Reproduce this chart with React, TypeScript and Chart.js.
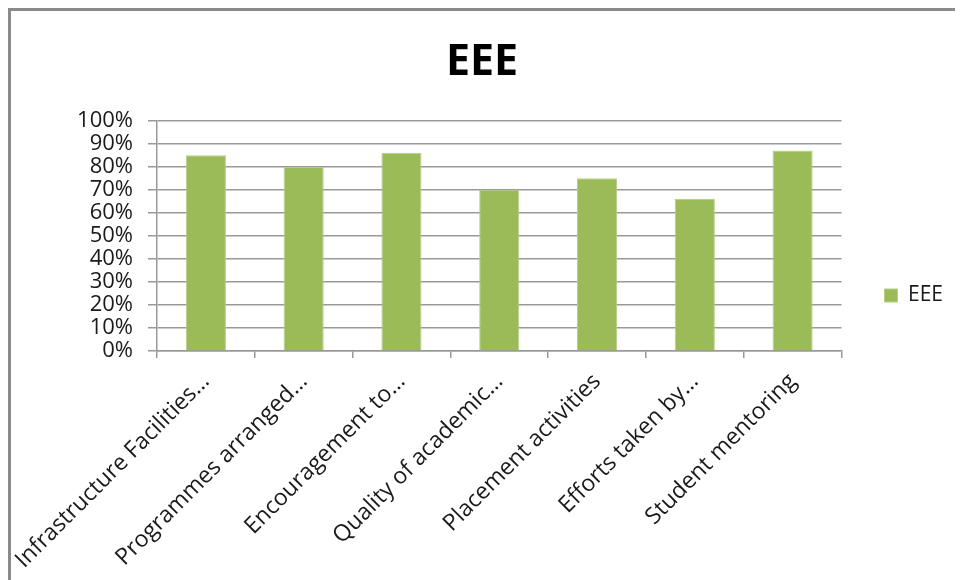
import React, { useEffect, useRef } from "react";
import { Chart, registerables } from "chart.js";

Chart.register(...registerables);

const categories: string[] = [
  "Infrastructure Facilities…",
  "Programmes arranged…",
  "Encouragement to…",
  "Quality of academic…",
  "Placement activities",
  "Efforts taken by…",
  "Student mentoring",
];
const seriesName = "EEE";
const values: number[] = [85, 80, 86, 70, 75, 66, 87];
const yMin = 0;
const yMax = 100;
const yStep = 10;

const FONT = "'Open Sans', 'Liberation Sans', sans-serif";
const W = 952;
const H = 569;

export default function App() {
  const ref = useRef<HTMLCanvasElement | null>(null);
  useEffect(() => {
    if (!ref.current) return;
    const chart = new Chart(ref.current, {
      type: "bar",
      data: {
        labels: categories,
        datasets: [
          {
            label: seriesName,
            data: values,
            backgroundColor: "#9BBB59",
            borderColor: "#B5CF86",
            borderWidth: 1,
            barPercentage: 0.41,
            categoryPercentage: 1,
          },
        ],
      },
      options: {
        responsive: false,
        animation: false,
        layout: { padding: { left: 0, right: 10, top: 0, bottom: 0 } },
        plugins: {
          title: {
            display: true,
            text: "EEE",
            color: "#000",
            font: { family: FONT, size: 43, weight: "bold" },
            padding: { top: 26, bottom: 32 },
          },
          legend: {
            display: true,
            position: "right",
            labels: {
              boxWidth: 13,
              boxHeight: 13,
              padding: 43,
              color: "#1a1a1a",
              font: { family: FONT, size: 21 },
            },
          },
          tooltip: { enabled: false },
        },
        scales: {
          x: {
            grid: {
              display: true,
              drawOnChartArea: false,
              drawTicks: true,
              tickLength: 7,
              color: "#999",
              lineWidth: 1.5,
              offset: true,
            },
            border: { display: true, color: "#999", width: 1.5 },
            ticks: {
              maxRotation: 45,
              minRotation: 45,
              autoSkip: false,
              padding: 10,
              color: "#1a1a1a",
              font: { family: FONT, size: 23 },
            },
            afterFit: (scale: any) => {
              scale.height = 229;
              scale.paddingLeft = 0;
              scale.paddingRight = 0;
            },
          },
          y: {
            min: yMin,
            max: yMax,
            grid: {
              color: "#999",
              lineWidth: 1.5,
              tickLength: 9,
            },
            border: { display: true, color: "#999", width: 1.5 },
            ticks: {
              stepSize: yStep,
              autoSkip: false,
              padding: 15,
              color: "#1a1a1a",
              font: { family: FONT, size: 22 },
              callback: (v: any) => `${v}%`,
            },
            afterFit: (scale: any) => {
              scale.width = 146;
            },
          },
        },
      },
    });
    return () => chart.destroy();
  }, []);
  return (
    <div
      style={{
        width: W,
        height: H,
        borderTop: "3px solid #8a8a8a",
        borderLeft: "3px solid #8a8a8a",
        background: "#fff",
      }}
    >
      <canvas ref={ref} width={W} height={H} style={{ display: "block", width: W, height: H }} />
    </div>
  );
}
